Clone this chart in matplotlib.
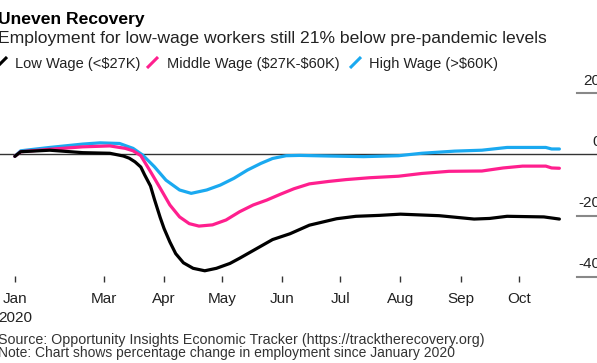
import numpy as np
import matplotlib
matplotlib.use("Agg")
import matplotlib.pyplot as plt
from matplotlib.lines import Line2D

plt.rcParams['font.family'] = ['Liberation Sans', 'DejaVu Sans']

# データ（画像から読み取った値, 1月比の変化率%）
low_dates = ['2020-01-15', '2020-01-18', '2020-02-02', '2020-02-19', '2020-03-04', '2020-03-11',
             '2020-03-14', '2020-03-17', '2020-03-20', '2020-03-22', '2020-03-25', '2020-03-27',
             '2020-03-30', '2020-04-01', '2020-04-04', '2020-04-07', '2020-04-11', '2020-04-16',
             '2020-04-22', '2020-04-28', '2020-05-05', '2020-05-10', '2020-05-27', '2020-06-05',
             '2020-06-15', '2020-06-29', '2020-07-09', '2020-07-21', '2020-08-01', '2020-08-21',
             '2020-09-08', '2020-09-16', '2020-09-25', '2020-10-14', '2020-10-22']
low_vals = [-0.6, 0.9, 1.4, 0.6, 0.4, -0.5,
            -1.2, -2.4, -4.1, -6.7, -10.3, -14.6,
            -20.6, -24.2, -28.6, -32.4, -35.4, -37.2,
            -38.0, -37.2, -35.6, -33.9, -27.8, -25.9,
            -23.1, -21.0, -20.2, -19.9, -19.5, -20.0,
            -21.1, -20.9, -20.2, -20.4, -21.1]

mid_dates = ['2020-01-15', '2020-01-18', '2020-02-02', '2020-02-19', '2020-03-04', '2020-03-12',
             '2020-03-16', '2020-03-20', '2020-03-25', '2020-03-30', '2020-04-04', '2020-04-09',
             '2020-04-14', '2020-04-19', '2020-04-26', '2020-05-03', '2020-05-10', '2020-05-17',
             '2020-05-24', '2020-05-31', '2020-06-07', '2020-06-15', '2020-06-25', '2020-07-04',
             '2020-07-16', '2020-07-31', '2020-08-12', '2020-08-26', '2020-09-12', '2020-09-23',
             '2020-10-03', '2020-10-15', '2020-10-18', '2020-10-22']
mid_vals = [-0.6, 0.9, 1.7, 2.5, 2.8, 2.0,
            1.2, -0.4, -5.6, -11.0, -16.5, -20.4,
            -22.6, -23.4, -23.0, -21.4, -18.7, -16.5,
            -14.9, -13.0, -11.2, -9.6, -8.8, -8.2,
            -7.6, -7.1, -6.2, -5.5, -5.4, -4.4,
            -3.8, -3.8, -4.4, -4.5]

high_dates = ['2020-01-15', '2020-01-18', '2020-02-02', '2020-02-19', '2020-02-28', '2020-03-09',
              '2020-03-16', '2020-03-21', '2020-03-27', '2020-04-02', '2020-04-09', '2020-04-15',
              '2020-04-23', '2020-04-30', '2020-05-07', '2020-05-14', '2020-05-21', '2020-05-27',
              '2020-06-03', '2020-06-10', '2020-06-25', '2020-07-13', '2020-07-31', '2020-08-12',
              '2020-08-29', '2020-09-12', '2020-09-25', '2020-10-15', '2020-10-18', '2020-10-22']
high_vals = [-0.6, 1.2, 2.3, 3.4, 3.8, 3.6,
             2.0, -0.2, -4.0, -8.4, -11.6, -12.7,
             -11.6, -10.0, -7.8, -5.1, -2.9, -1.3,
             -0.4, -0.3, -0.5, -0.7, -0.4, 0.4,
             1.1, 1.4, 2.3, 2.3, 1.8, 1.8]

series_labels = ['Low Wage (<$27K)', 'Middle Wage ($27K-$60K)', 'High Wage (>$60K)']
series_colors = ['#000000', '#ff1f8e', '#1aa9f0']

tick_dates = ['2020-01-15', '2020-03-01', '2020-04-01', '2020-05-01', '2020-06-01',
              '2020-07-01', '2020-08-01', '2020-09-01', '2020-10-01']
tick_labels = ['Jan\n2020', 'Mar', 'Apr', 'May', 'Jun', 'Jul', 'Aug', 'Sep', 'Oct']
ytick_vals = [20, 0, -20, -40]

W, H = 597, 363
def fx(px):
    return px / W
def fy(py):
    return 1 - py / H

fig = plt.figure(figsize=(W / 100, H / 100), dpi=100)
ax = fig.add_axes([0, fy(282), 1, fy(70) - fy(282)])

ax.axhline(0, color='#333333', lw=1.0, zorder=1)
# 低賃金が一番上に来るように描画
data = [(low_dates, low_vals), (mid_dates, mid_vals), (high_dates, high_vals)]
for (d, v), c, z in zip(data, series_colors, [4, 3, 2]):
    ax.plot(np.array(d, dtype='datetime64[D]'), v, color=c, lw=2.3, zorder=z,
            solid_capstyle='round', solid_joinstyle='round')

ax.set_xlim(np.datetime64('2020-01-07T08'), np.datetime64('2020-11-10T10'))
ax.set_ylim(-41.67, 27.61)

ax.set_xticks(np.array(tick_dates, dtype='datetime64[D]'))
ax.set_xticklabels(tick_labels, fontsize=11, color='#222222', linespacing=1.5)
ax.tick_params(axis='x', direction='in', length=4.5, width=1.0, color='#333333', pad=7)
ax.set_yticks([])
for s in ax.spines.values():
    s.set_visible(False)
ax.patch.set_alpha(0)

# 右側の目盛り（短い線＋ラベル）
for v in ytick_vals:
    if v != 0:
        ax.axhline(v, xmin=fx(577), xmax=1, color='#888888', lw=1.5, clip_on=False)
    ax.annotate(str(v), xy=(fx(600.5), v), xycoords=('axes fraction', 'data'),
                xytext=(0, 4), textcoords='offset points', ha='right', va='bottom',
                fontsize=11, color='#222222', annotation_clip=False)

# タイトル
fig.text(fx(-1.5), fy(24), 'Uneven Recovery', fontsize=12.6, fontweight='bold', color='#000000', va='baseline')
fig.text(fx(-1.5), fy(43), 'Employment for low-wage workers still 21% below pre-pandemic levels',
         fontsize=12.6, color='#222222', va='baseline')

# 凡例
leg_x = [15, 167.5, 368.6]
mark_x = [-4, 147, 350]
for lx, mx, lab, c in zip(leg_x, mark_x, series_labels, series_colors):
    fig.lines.append(Line2D([fx(mx), fx(mx + 11)], [fy(68), fy(57)], transform=fig.transFigure,
                            color=c, lw=2.2, solid_capstyle='butt'))
    fig.text(fx(lx), fy(68), lab.replace('$', r'\$'), fontsize=10.5, color='#222222', va='baseline')

fig.text(fx(-1.5), fy(344), 'Source: Opportunity Insights Economic Tracker (https://tracktherecovery.org)',
         fontsize=10.3, color='#333333', va='baseline')
fig.text(fx(-1.5), fy(357), 'Note: Chart shows percentage change in employment since January 2020',
         fontsize=10.0, color='#333333', va='baseline')

fig.savefig('out.png', dpi=100)
